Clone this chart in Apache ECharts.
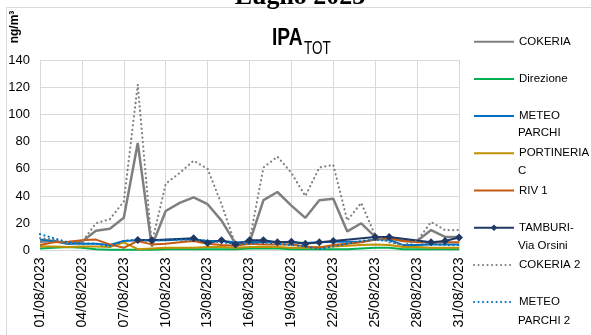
<!DOCTYPE html>
<html>
<head>
<meta charset="utf-8">
<script src="https://cdn.jsdelivr.net/npm/echarts@6/dist/echarts.min.js"></script>
<style>
html,body{margin:0;padding:0;background:#fff;}
#chart{width:591px;height:335px;}
</style>
</head>
<body>
<div id="chart"></div>
<script>
var categories = ["01/08/2023","02/08/2023","03/08/2023","04/08/2023","05/08/2023","06/08/2023","07/08/2023","08/08/2023","09/08/2023","10/08/2023","11/08/2023","12/08/2023","13/08/2023","14/08/2023","15/08/2023","16/08/2023","17/08/2023","18/08/2023","19/08/2023","20/08/2023","21/08/2023","22/08/2023","23/08/2023","24/08/2023","25/08/2023","26/08/2023","27/08/2023","28/08/2023","29/08/2023","30/08/2023","31/08/2023"];
var cokeria = [6.5, 7, 5, 6.5, 14.5, 16, 24, 79, 3, 29, 35, 39, 34, 22, 5, 6, 37, 43, 33, 24, 37, 38, 14, 20, 10, 9, 7, 7, 15, 10, 10];
var direzione = [1.5, 2, 2.5, 2, 1, 0.5, 0.5, 0.5, 0.5, 1, 1, 1, 1, 1, 1, 1.5, 1.5, 1.5, 1, 1, 1, 1, 1, 1.5, 2, 2, 1, 1, 1, 1, 1];
var meteoParchi = [8, 7, 5, 5, 5, 4, 7, 7.5, 7.5, 7.5, 8, 8, 7, 7, 6, 6, 6.5, 6, 6, 5.5, 6, 6.5, 6.5, 6.5, 8, 8, 4, 4, 4.5, 4.5, 4.5];
var portineriaC = [3, 3, 2.5, 3, 3, 2.5, 6, 1, 1.5, 2, 2, 2, 2.5, 2.5, 2, 2.5, 2.5, 2.5, 2, 2, 2.5, 3, 3.5, 4, 4.5, 4, 2.5, 2.5, 2, 2, 2];
var riv1 = [4, 6, 6.5, 7.5, 8, 4.5, 2, 7, 4.5, 5, 6, 7, 5, 4, 3.5, 5, 4.5, 4.5, 4.5, 3, 2, 4, 5, 6, 8, 9, 7, 6, 6, 6, 6];
var tamburi = [null, null, null, null, null, null, null, 7.7, 7.5, null, null, 9, 5.5, 7.5, 4.5, 7.5, 7.5, 6, 6.5, 5, 6, 7, null, null, 10, 10, null, null, 6, 7, 9.5];
var cokeria2 = [9, 8, 5, 6, 20, 23, 36, 122, 5, 49, 57, 66, 60, 34, 4, 7, 61, 69, 57, 40, 61, 63, 22, 35, 11, 6, 4, 7, 21, 15, 15];
var meteoParchi2 = [12, 9, 6, 5, 5, 3, 7, 8, 7, 8, 8, 8, 7, 6, 5, 5, 6, 5, 4, 3, 1, 3, 5, 7, 8, 7, 4, 4, 5, 4, 4];
var yTicks = [0, 20, 40, 60, 80, 100, 120, 140];

var FONT = "'Liberation Sans', Arial, sans-serif";
var chart = echarts.init(document.getElementById('chart'), null, {renderer: 'canvas'});

function ln(name, data, color, width, dash) {
  return {
    name: name, type: 'line', data: data, symbol: 'none', connectNulls: true,
    lineStyle: {color: color, width: width, type: dash || 'solid', cap: dash ? 'round' : 'butt'},
    itemStyle: {color: color}, animation: false
  };
}

var series = [
  ln('COKERIA', cokeria, '#7F7F7F', 2.5),
  ln('Direzione', direzione, '#00B050', 2),
  ln('METEO PARCHI', meteoParchi, '#0070C0', 2),
  ln('PORTINERIA C', portineriaC, '#BF9000', 2),
  ln('RIV 1', riv1, '#C55A11', 2),
  {
    name: 'TAMBURI-Via Orsini', type: 'line', data: tamburi, connectNulls: true,
    symbol: 'diamond', symbolSize: 8, showSymbol: true,
    lineStyle: {color: '#1F3864', width: 2}, itemStyle: {color: '#1F3864'}, animation: false
  },
  ln('COKERIA 2', cokeria2, '#7F7F7F', 2.2, [0.1, 4.4]),
  ln('METEO PARCHI 2', meteoParchi2, '#0070C0', 2.2, [0.1, 4.4])
];

var firstLine = {
  'COKERIA': 'COKERIA', 'Direzione': 'Direzione', 'METEO PARCHI': 'METEO',
  'PORTINERIA C': 'PORTINERIA', 'RIV 1': 'RIV 1', 'TAMBURI-Via Orsini': 'TAMBURI-',
  'COKERIA 2': 'COKERIA 2', 'METEO PARCHI 2': 'METEO'
};

function g2(text, cy) {
  return {type: 'text', x: 518, y: cy, style: {text: text, fill: '#000', font: '11.5px ' + FONT, textAlign: 'left', textVerticalAlign: 'middle'}};
}

var option = {
  backgroundColor: '#fff',
  animation: false,
  grid: {left: 40, right: 132, top: 60, bottom: 84.5, containLabel: false},
  xAxis: {
    type: 'category', data: categories, boundaryGap: false,
    axisLine: {lineStyle: {color: '#D9D9D9', width: 1}},
    axisTick: {show: false},
    axisLabel: {interval: 2, rotate: 90, color: '#000', fontSize: 14, fontFamily: FONT, margin: 7},
    splitLine: {show: true, interval: 2, lineStyle: {color: '#D9D9D9', width: 1}}
  },
  yAxis: {
    type: 'value', min: yTicks[0], max: yTicks[yTicks.length - 1], interval: 20,
    axisLine: {show: false}, axisTick: {show: false},
    axisLabel: {color: '#000', fontSize: 13, fontFamily: FONT, margin: 10},
    splitLine: {lineStyle: {color: '#D9D9D9', width: 1}}
  },
  legend: {
    orient: 'vertical', left: 473, top: 34.7, padding: 0, itemWidth: 40, itemHeight: 8, itemGap: 23.2,
    textStyle: {color: '#000', fontSize: 11.5, fontFamily: FONT, lineHeight: 14},
    formatter: function (n) { return firstLine[n] || n; },
    data: series.map(function (s) {
      return s.name === 'TAMBURI-Via Orsini' ? {name: s.name} : {name: s.name, itemStyle: {opacity: 0}};
    })
  },
  graphic: [
    {type: 'rect', shape: {x: 6.5, y: 7.5, width: 700, height: 500}, style: {fill: 'none', stroke: '#D9D9D9', lineWidth: 1}, z: -10},
    {type: 'text', x: 300, y: -3, style: {text: 'Luglio 2023', fill: '#000', font: 'bold 26px "Liberation Serif", "Times New Roman", serif', textAlign: 'center', textVerticalAlign: 'middle'}},
    {type: 'text', x: 272, y: 38.5, scaleX: 0.8, style: {text: 'IPA', fill: '#000', font: 'bold 24px ' + FONT, textAlign: 'left', textVerticalAlign: 'middle'}},
    {type: 'text', x: 304, y: 49.5, scaleX: 0.75, style: {text: 'TOT', fill: '#000', font: '18px ' + FONT, textAlign: 'left', textVerticalAlign: 'middle'}},
    {type: 'text', x: 15, y: 27, rotation: Math.PI / 2, style: {text: 'ng/m³', fill: '#000', font: 'bold 12px ' + FONT, textAlign: 'center', textVerticalAlign: 'middle'}},
    g2('PARCHI', 133),
    g2('C', 171),
    g2('Via Orsini', 246),
    g2('PARCHI 2', 321)
  ],
  series: series
};
chart.setOption(option);
</script>
</body>
</html>
